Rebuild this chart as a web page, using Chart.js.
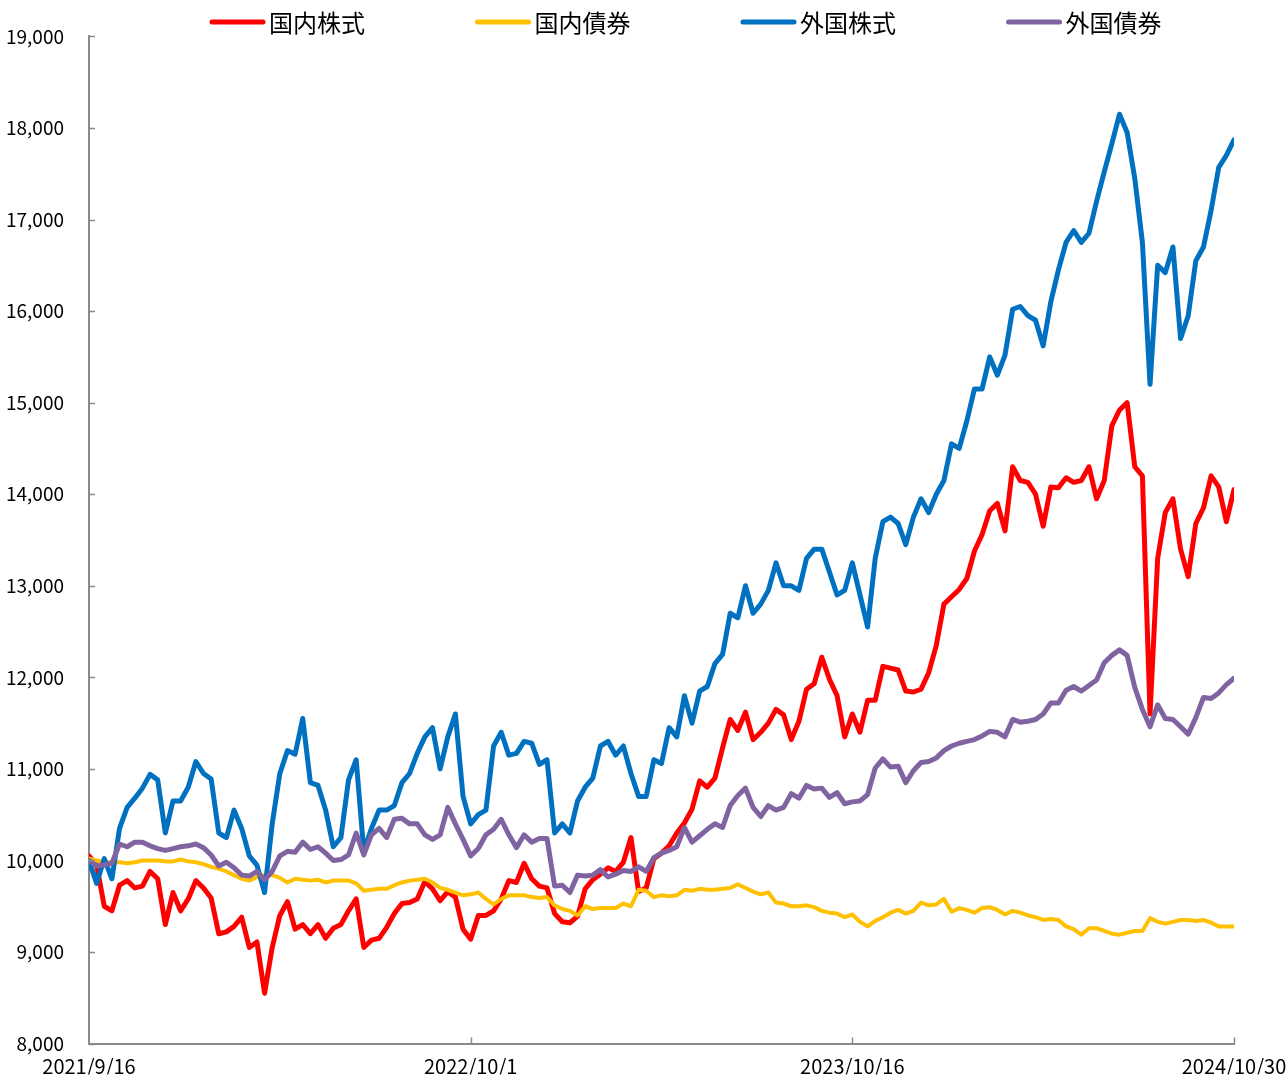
<!DOCTYPE html>
<html lang="ja">
<head>
<meta charset="utf-8">
<title>資産別の推移</title>
<script src="https://cdn.jsdelivr.net/npm/chart.js@4.4.1/dist/chart.umd.min.js"></script>
<style>
  html, body { margin: 0; padding: 0; background: #fff; }
  #wrap { width: 1288px; height: 1080px; }
</style>
</head>
<body>
<div id="wrap"><canvas id="chart"></canvas></div>
<script>
// 目盛りラベル (約380日ごと)
const tickDates = ['2021/9/16', '2022/10/1', '2023/10/16', '2024/10/30'];

const seriesNames = ['国内株式', '国内債券', '外国株式', '外国債券'];
const seriesColors = ['#FF0000', '#FFC000', '#0070C0', '#8064A2'];

// 基準価額 (10,000スタート) を等間隔でサンプリングした値
const domesticStock = [
  10050, 9950, 9500, 9450, 9730, 9780, 9700, 9720, 9880, 9800,
  9300, 9650, 9450, 9580, 9780, 9700, 9590, 9200, 9220, 9280,
  9380, 9050, 9110, 8550, 9050, 9400, 9550, 9250, 9300, 9200,
  9300, 9150, 9260, 9300, 9450, 9580, 9050, 9130, 9150, 9270,
  9420, 9530, 9540, 9580, 9770, 9690, 9560, 9660, 9600, 9250,
  9140, 9400, 9400, 9450, 9580, 9780, 9760, 9970, 9800, 9720,
  9700, 9420, 9330, 9320, 9390, 9690, 9790, 9850, 9920, 9880,
  9980, 10250, 9660, 9700, 10020, 10080, 10160, 10300, 10410, 10560,
  10870, 10800, 10900, 11230, 11540, 11420, 11620, 11320, 11400, 11500,
  11650, 11590, 11320, 11520, 11870, 11930, 12220, 11980, 11800, 11350,
  11600, 11400, 11750, 11750, 12120, 12100, 12080, 11850, 11840, 11870,
  12050, 12350, 12800, 12880, 12960, 13080, 13380, 13560, 13820, 13900,
  13600, 14300, 14150, 14130, 14000, 13650, 14080, 14070, 14180, 14130,
  14150, 14300, 13950, 14150, 14750, 14920, 15000, 14300, 14200, 11600,
  13300, 13800, 13950, 13400, 13100, 13680, 13850, 14200, 14080, 13700, 14050
];

const domesticBond = [
  10020, 10000, 9980, 9980, 9980, 9970, 9980, 10000, 10000, 10000,
  9990, 9990, 10010, 9990, 9980, 9960, 9930, 9910, 9880, 9840,
  9800, 9780, 9820, 9840, 9840, 9810, 9760, 9800, 9790, 9780,
  9790, 9760, 9780, 9780, 9780, 9750, 9670, 9680, 9690, 9690,
  9730, 9760, 9780, 9790, 9800, 9760, 9700, 9680, 9650, 9620,
  9630, 9650, 9580, 9520, 9580, 9620, 9620, 9620, 9600, 9590,
  9600, 9510, 9470, 9450, 9400, 9500, 9470, 9480, 9480, 9480,
  9530, 9500, 9680, 9670, 9600, 9620, 9610, 9620, 9680, 9670,
  9690, 9680, 9680, 9690, 9700, 9740, 9700, 9660, 9630, 9650,
  9540, 9530, 9500, 9500, 9510, 9490, 9450, 9430, 9420, 9380,
  9410, 9330, 9280, 9340, 9380, 9430, 9460, 9420, 9450, 9540,
  9510, 9520, 9580, 9440, 9480, 9460, 9430, 9480, 9490, 9460,
  9410, 9450, 9430, 9400, 9380, 9350, 9360, 9350, 9280, 9250,
  9190, 9260, 9260, 9230, 9200, 9190, 9210, 9230, 9230, 9370,
  9330, 9310, 9330, 9350, 9350, 9340, 9350, 9320, 9280, 9280, 9280
];

const foreignStock = [
  10000, 9750, 10020, 9800, 10350, 10580, 10680, 10790, 10940, 10880,
  10300, 10650, 10650, 10800, 11080, 10950, 10890, 10300, 10250, 10550,
  10350, 10050, 9950, 9650, 10400, 10950, 11200, 11160, 11550, 10850,
  10820, 10550, 10150, 10250, 10880, 11100, 10100, 10350, 10550, 10550,
  10600, 10850, 10950, 11170, 11350, 11450, 11000, 11350, 11600, 10700,
  10400, 10500, 10550, 11250, 11400, 11150, 11170, 11300, 11280, 11050,
  11100, 10300, 10400, 10300, 10650, 10800, 10900, 11250, 11300, 11150,
  11250, 10950, 10700, 10700, 11100, 11060, 11450, 11350, 11800, 11500,
  11850, 11900, 12150, 12250, 12700, 12650, 13000, 12700, 12800, 12950,
  13250, 13000, 13000, 12950, 13300, 13400, 13400, 13150, 12900, 12950,
  13250, 12900, 12550, 13300, 13700, 13750, 13680, 13450, 13750, 13950,
  13800, 14000, 14150, 14550, 14500, 14800, 15150, 15150, 15500, 15300,
  15520, 16020, 16050, 15950, 15900, 15620, 16100, 16450, 16750, 16880,
  16750, 16850, 17200, 17520, 17830, 18150, 17950, 17450, 16750, 15200,
  16500, 16420, 16700, 15700, 15950, 16550, 16700, 17100, 17570, 17700, 17870
];

const foreignBond = [
  10000, 9940, 9950, 9970, 10180, 10150, 10200, 10200, 10160, 10130,
  10110, 10130, 10150, 10160, 10180, 10140, 10060, 9940, 9980, 9920,
  9840, 9830, 9880, 9790, 9880, 10050, 10100, 10090, 10200, 10120,
  10150, 10080, 10000, 10010, 10060, 10300, 10060, 10280, 10350, 10250,
  10450, 10460, 10400, 10400, 10280, 10230, 10280, 10580, 10400, 10230,
  10050, 10130, 10280, 10340, 10450, 10280, 10140, 10280, 10200, 10240,
  10240, 9720, 9730, 9650, 9840, 9830, 9840, 9900, 9820, 9850,
  9890, 9880, 9930, 9880, 10030, 10080, 10110, 10150, 10360, 10200,
  10270, 10340, 10400, 10360, 10600, 10710, 10790, 10580, 10480, 10600,
  10550, 10580, 10730, 10680, 10820, 10780, 10790, 10690, 10740, 10620,
  10640, 10650, 10720, 11010, 11110, 11020, 11030, 10850, 10980, 11070,
  11080, 11120, 11200, 11250, 11280, 11300, 11320, 11360, 11410, 11400,
  11350, 11540, 11510, 11520, 11540, 11600, 11720, 11720, 11860, 11900,
  11850, 11910, 11970, 12160, 12240, 12300, 12240, 11890, 11650, 11460,
  11700, 11550, 11540, 11460, 11380, 11560, 11780, 11770, 11830, 11920, 11990
];

const seriesValues = [domesticStock, domesticBond, foreignStock, foreignBond];
const lastIndex = domesticStock.length - 1;
const tickStep = lastIndex / (tickDates.length - 1);

const axisColor = '#8a8a8a';
const fontFamily = '"Noto Sans CJK JP", "Noto Sans", sans-serif';

// 目盛り線を内側に描く
const innerTicks = {
  id: 'innerTicks',
  afterDraw(chart) {
    const { ctx, scales: { x, y } } = chart;
    ctx.save();
    ctx.strokeStyle = axisColor;
    ctx.lineWidth = 1.5;
    ctx.beginPath();
    y.ticks.forEach(t => {
      const py = Math.round(y.getPixelForValue(t.value)) + 0.5;
      ctx.moveTo(x.left, py);
      ctx.lineTo(x.left + 6, py);
    });
    x.ticks.forEach(t => {
      if (t.value === 0) return;
      const px = Math.round(x.getPixelForValue(t.value)) + 0.5;
      ctx.moveTo(px, y.bottom);
      ctx.lineTo(px, y.bottom - 6);
    });
    ctx.stroke();
    ctx.restore();
  }
};

// 凡例 (線 + テキスト)
const lineLegend = {
  id: 'lineLegend',
  afterDraw(chart) {
    const ctx = chart.ctx;
    ctx.save();
    ctx.font = '24px ' + fontFamily;
    ctx.textBaseline = 'middle';
    chart.data.datasets.forEach((ds, i) => {
      const x0 = 210 + i * 265.5;
      const y0 = 22;
      ctx.strokeStyle = ds.borderColor;
      ctx.lineWidth = 5;
      ctx.lineCap = 'round';
      ctx.beginPath();
      ctx.moveTo(x0 + 2, y0);
      ctx.lineTo(x0 + 53, y0);
      ctx.stroke();
      ctx.fillStyle = '#000';
      ctx.fillText(ds.label, x0 + 59, y0 + 1);
    });
    ctx.restore();
  }
};

new Chart(document.getElementById('chart'), {
  type: 'line',
  data: {
    datasets: seriesNames.map((name, i) => ({
      label: name,
      data: seriesValues[i].map((v, k) => ({ x: k, y: v })),
      borderColor: seriesColors[i],
      backgroundColor: seriesColors[i],
      borderWidth: i === 1 ? 4 : 5,
      pointRadius: 0,
      tension: 0,
      borderJoinStyle: 'round',
      borderCapStyle: 'round',
      order: seriesNames.length - i
    }))
  },
  options: {
    responsive: true,
    maintainAspectRatio: false,
    animation: false,
    layout: { padding: { top: 36, right: 54, bottom: 0, left: 0 } },
    plugins: {
      legend: { display: false },
      tooltip: { enabled: false }
    },
    scales: {
      x: {
        type: 'linear',
        min: 0,
        max: lastIndex,
        afterFit(s) {
          s.height = 31;
          s.paddingLeft = 0;
          s.paddingRight = 0;
        },
        grid: { drawOnChartArea: false, drawTicks: false },
        border: { color: axisColor, width: 2 },
        ticks: {
          stepSize: tickStep,
          autoSkip: false,
          maxRotation: 0,
          padding: 11,
          color: '#000',
          font: { family: fontFamily, size: 20 },
          callback: v => tickDates[Math.round(v / tickStep)] ?? ''
        }
      },
      y: {
        min: 8000,
        max: 19000,
        afterFit(s) { s.width = 89; },
        grid: { drawOnChartArea: false, drawTicks: false },
        border: { color: axisColor, width: 2 },
        ticks: {
          stepSize: 1000,
          padding: 25,
          color: '#000',
          font: { family: fontFamily, size: 19 },
          callback: v => v.toLocaleString('en-US')
        }
      }
    }
  },
  plugins: [innerTicks, lineLegend]
});
</script>
</body>
</html>
